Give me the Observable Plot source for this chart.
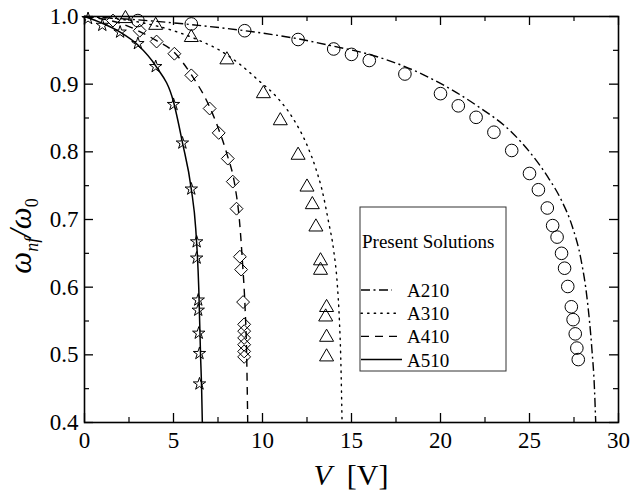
<!DOCTYPE html>
<html><head><meta charset="utf-8">
<script src="https://cdn.jsdelivr.net/npm/d3@7"></script>
<script src="https://cdn.jsdelivr.net/npm/@observablehq/plot@0.6"></script>
<style>body{margin:0;background:#fff;}#chart{position:relative;width:630px;height:497px;}</style>
</head><body><div id="chart"></div>
<script>
// Tick values
const xMajor = [0, 5, 10, 15, 20, 25, 30];
const xMinor = [2.5, 7.5, 12.5, 17.5, 22.5, 27.5];
const yMajor = [0.4, 0.5, 0.6, 0.7, 0.8, 0.9, 1.0];
const yMinor = [0.45, 0.55, 0.65, 0.75, 0.85, 0.95];
const seriesNames = ["A210", "A310", "A410", "A510"];

// Present solutions (curves)
const a210LineV = [0, 3, 6, 9, 12, 14, 16, 18, 20, 22, 24, 25, 26, 26.8, 27.4, 27.9, 28.25, 28.5, 28.65, 28.72];
const a210LineW = [1.0, 0.995, 0.988, 0.979, 0.967, 0.956, 0.944, 0.926, 0.901, 0.869, 0.829, 0.800, 0.764, 0.728, 0.690, 0.640, 0.580, 0.510, 0.450, 0.400];
const a310LineV = [0, 3, 5, 6.5, 7.6, 8.7, 9.8, 10.8, 11.7, 12.5, 13.0, 13.35, 13.7, 14.0, 14.2, 14.32, 14.4, 14.47];
const a310LineW = [1.0, 0.992, 0.979, 0.964, 0.950, 0.930, 0.905, 0.881, 0.850, 0.810, 0.775, 0.743, 0.698, 0.654, 0.605, 0.551, 0.492, 0.400];
const a410LineV = [0, 2, 4, 5, 6, 7, 7.5, 8, 8.45, 8.7, 8.88, 9.02, 9.11, 9.17];
const a410LineW = [1.0, 0.990, 0.965, 0.948, 0.914, 0.868, 0.836, 0.797, 0.750, 0.700, 0.635, 0.570, 0.500, 0.400];
const a510LineV = [0, 1, 2, 3, 4, 5, 5.5, 6.0, 6.25, 6.42, 6.52, 6.58, 6.62];
const a510LineW = [1.0, 0.990, 0.977, 0.958, 0.927, 0.874, 0.814, 0.745, 0.686, 0.598, 0.499, 0.450, 0.400];

// Reference markers
const a210MarkV = [3.0, 6.0, 9.0, 12.0, 14.0, 15.0, 16.0, 18.0, 20.0, 21.0, 22.0, 23.0, 24.0, 25.0, 25.5, 26.0, 26.3, 26.55, 26.8, 26.97, 27.15, 27.35, 27.45, 27.57, 27.66, 27.74];
const a210MarkW = [0.994, 0.989, 0.979, 0.966, 0.952, 0.944, 0.935, 0.915, 0.886, 0.868, 0.851, 0.829, 0.802, 0.768, 0.744, 0.717, 0.691, 0.674, 0.650, 0.628, 0.601, 0.571, 0.552, 0.531, 0.510, 0.493];
const a310MarkV = [2.3, 4.0, 6.0, 8.0, 10.05, 11.0, 12.0, 12.5, 12.8, 13.0, 13.26, 13.26, 13.6, 13.55, 13.6, 13.6];
const a310MarkW = [0.997, 0.987, 0.969, 0.936, 0.886, 0.846, 0.795, 0.748, 0.722, 0.689, 0.639, 0.625, 0.570, 0.556, 0.526, 0.497];
const a410MarkV = [1.6, 3.1, 4.05, 5.05, 6.0, 7.03, 7.54, 8.05, 8.33, 8.54, 8.73, 8.8, 8.91, 8.97, 8.97, 8.97, 8.97, 8.97, 8.97];
const a410MarkW = [0.994, 0.979, 0.963, 0.945, 0.913, 0.864, 0.828, 0.790, 0.756, 0.716, 0.645, 0.626, 0.578, 0.545, 0.535, 0.525, 0.515, 0.505, 0.497];
const a510MarkV = [0.2, 1.0, 2.0, 3.0, 4.0, 5.0, 5.5, 6.0, 6.3, 6.3, 6.39, 6.39, 6.42, 6.46, 6.46];
const a510MarkW = [0.997, 0.987, 0.977, 0.960, 0.926, 0.870, 0.813, 0.745, 0.667, 0.643, 0.581, 0.566, 0.532, 0.502, 0.457];

const zip = (vs, ws) => vs.map((v, i) => ({v, w: ws[i]}));
const lineSets = [zip(a210LineV, a210LineW), zip(a310LineV, a310LineW), zip(a410LineV, a410LineW), zip(a510LineV, a510LineW)];
const markSets = [zip(a210MarkV, a210MarkW), zip(a310MarkV, a310MarkW), zip(a410MarkV, a410MarkW), zip(a510MarkV, a510MarkW)];
const dashes = ["9,3.5,2,3.5", "1.4,5.2", "8,6", null];
const symbols = ["circle", "triangle", "diamond2", "star"];
const radii = [6.3, 5.2, 5.8, 3.9];

const W = 630, H = 497, mL = 84, mR = 12, mT = 16, mB = 75;
const pw = W - mL - mR, ph = H - mT - mB;
const font = "'Liberation Serif', 'Times New Roman', serif";

const marks = [
  Plot.frame({stroke: "black", strokeWidth: 1.6}),
  // inward ticks, all four sides
  Plot.tickX(xMajor, {x: d => d, insetTop: ph - 9, strokeWidth: 1.3}),
  Plot.tickX(xMajor, {x: d => d, insetBottom: ph - 9, strokeWidth: 1.3}),
  Plot.tickX(xMinor, {x: d => d, insetTop: ph - 5, strokeWidth: 1.2}),
  Plot.tickX(xMinor, {x: d => d, insetBottom: ph - 5, strokeWidth: 1.2}),
  Plot.tickY(yMajor, {y: d => d, insetRight: pw - 9, strokeWidth: 1.3}),
  Plot.tickY(yMajor, {y: d => d, insetLeft: pw - 9, strokeWidth: 1.3}),
  Plot.tickY(yMinor, {y: d => d, insetRight: pw - 5, strokeWidth: 1.2}),
  Plot.tickY(yMinor, {y: d => d, insetLeft: pw - 5, strokeWidth: 1.2}),
  Plot.axisX({ticks: xMajor, tickSize: 0, tickPadding: 9, tickFormat: d => String(d), label: null, fontSize: 23, fill: "black"}),
  Plot.axisY({ticks: yMajor, tickSize: 0, tickPadding: 6, tickFormat: d3.format(".1f"), label: null, fontSize: 23, fill: "black"})
];
lineSets.forEach((data, i) => {
  marks.push(Plot.line(data, {x: "v", y: "w", curve: "monotone-x", stroke: "black",
    strokeWidth: i === 3 ? 1.5 : 1.4, strokeDasharray: dashes[i], strokeLinecap: i === 1 ? "round" : "butt"}));
});
markSets.forEach((data, i) => {
  marks.push(Plot.dot(data, {x: "v", y: "w", symbol: () => symbols[i], r: radii[i], fill: "none", stroke: "black", strokeWidth: 1}));
});

const svg = Plot.plot({
  width: W, height: H, marginLeft: mL, marginRight: mR, marginTop: mT, marginBottom: mB,
  x: {domain: [0, 30]},
  y: {domain: [0.4, 1.0]},
  symbol: {type: "identity"},
  style: {fontSize: "23px", color: "black", background: "white", overflow: "visible"},
  marks
});
document.getElementById("chart").appendChild(svg);

const s = d3.select(svg);
s.style("font-family", font, "important");
s.selectAll("text").style("font-family", font, "important").style("font-size", "23px", "important");

// Y axis title
const yt = s.append("text").attr("transform", "translate(31,236) rotate(-90)")
  .attr("text-anchor", "middle").style("font-family", font).style("font-size", "31px").style("font-style", "italic").attr("fill", "black");
yt.append("tspan").text("ω");
yt.append("tspan").attr("dy", 7).style("font-size", "18px").text("nf");
yt.append("tspan").attr("dy", -7).text("/ω");
yt.append("tspan").attr("dy", 7).style("font-size", "18px").style("font-style", "normal").text("0");
// X axis title
const xt = s.append("text").attr("x", 351).attr("y", 485).attr("text-anchor", "middle")
  .style("font-family", font).style("font-size", "30px").attr("fill", "black");
xt.append("tspan").style("font-style", "italic").text("V");
xt.append("tspan").text("\u2002[V]");

// Legend
const lg = s.append("g").style("font-family", font).style("font-size", "19px").attr("text-anchor", "start").attr("fill", "black");
lg.append("rect").attr("x", 360).attr("y", 207).attr("width", 146).attr("height", 164)
  .attr("fill", "white").attr("stroke", "#333").attr("stroke-width", 1);
lg.append("text").attr("x", 362).attr("y", 248).attr("text-anchor", "start").text("Present Solutions");
const lineEnds = [392, 400, 398, 402];
seriesNames.forEach((name, i) => {
  const by = 297 + i * 23.2;
  lg.append("line").attr("x1", 361).attr("x2", lineEnds[i]).attr("y1", by - 7).attr("y2", by - 7)
    .attr("stroke", "black").attr("stroke-width", i === 3 ? 1.5 : 1.4)
    .attr("stroke-dasharray", dashes[i]).attr("stroke-linecap", i === 1 ? "round" : "butt");
  lg.append("text").attr("x", 407).attr("y", by).attr("text-anchor", "start").text(name);
});
</script>
</body></html>
